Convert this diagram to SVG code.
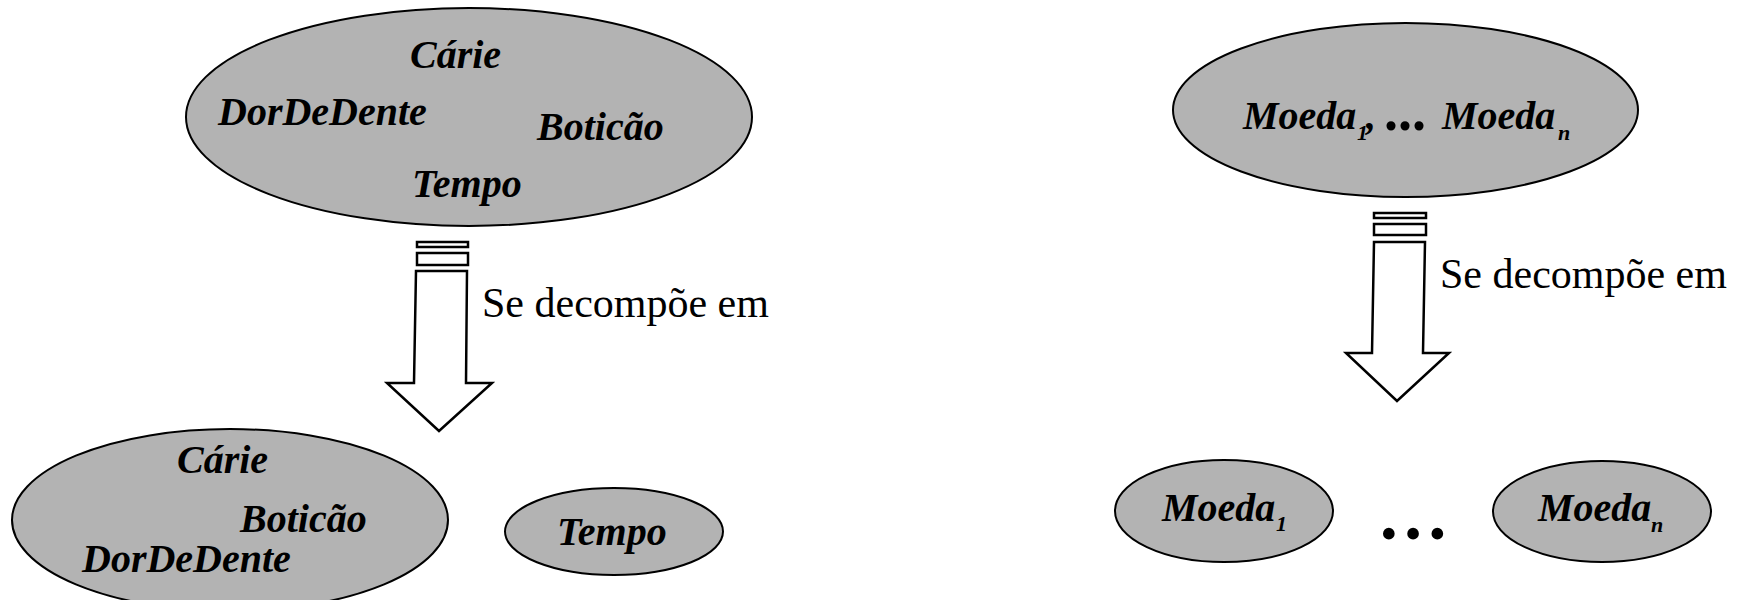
<svg xmlns="http://www.w3.org/2000/svg" width="1745" height="600" viewBox="0 0 1745 600">
<style>
.node{fill:#b3b3b3;stroke:#000;stroke-width:2}
.t{font-family:"Liberation Serif","Times New Roman",serif;font-weight:bold;font-style:italic;font-size:40px;fill:#000}
.sub{font-size:22px}
.lbl{font-family:"Liberation Serif","Times New Roman",serif;font-size:42px;fill:#000}
.arr{fill:#fff;stroke:#000;stroke-width:2.5;stroke-linejoin:miter}
.dots{font-family:"Liberation Serif","Times New Roman",serif;font-weight:bold;fill:#000}
</style>
<rect width="1745" height="600" fill="#fff"/>
<g id="connectors">
  <g id="arrow-left">
    <rect class="arr" x="417" y="242" width="51" height="5"/>
    <rect class="arr" x="417" y="253" width="51" height="12"/>
    <polygon class="arr" points="416,271 467,271 466,383 492,383 439,431 387,383 414,383"/>
    <text class="lbl" x="482" y="317">Se decompõe em</text>
  </g>
  <g id="arrow-right">
    <rect class="arr" x="1374" y="213" width="52" height="5"/>
    <rect class="arr" x="1374" y="224" width="52" height="11"/>
    <polygon class="arr" points="1374,242 1425,242 1423,353 1449,353 1397,401 1346,353 1372,353"/>
    <text class="lbl" x="1440" y="288">Se decompõe em</text>
  </g>
</g>
<g id="node-all">
  <ellipse class="node" cx="469" cy="117" rx="283" ry="109"/>
  <text class="t" x="410" y="68">Cárie</text>
  <text class="t" x="218" y="125">DorDeDente</text>
  <text class="t" x="537" y="140">Boticão</text>
  <text class="t" x="412" y="197">Tempo</text>
</g>
<g id="node-carie-dor-boticao">
  <ellipse class="node" cx="230" cy="520" rx="218" ry="91"/>
  <text class="t" x="177" y="473">Cárie</text>
  <text class="t" x="240" y="532">Boticão</text>
  <text class="t" x="82" y="572">DorDeDente</text>
</g>
<g id="node-tempo">
  <ellipse class="node" cx="614" cy="531.5" rx="109" ry="43.5"/>
  <text class="t" x="557" y="545">Tempo</text>
</g>
<g id="node-moedas">
  <ellipse class="node" cx="1405.5" cy="110" rx="232.5" ry="87"/>
  <text class="t" x="1243" y="129">Moeda</text>
  <text class="t sub" x="1357" y="140">1</text>
  <text class="t" x="1366" y="129">,</text>
  <text class="dots" x="1384" y="130" font-size="56">...</text>
  <text class="t" x="1442" y="129">Moeda</text>
  <text class="t sub" x="1558" y="140">n</text>
</g>
<g id="node-moeda1">
  <ellipse class="node" cx="1224" cy="511" rx="109" ry="51"/>
  <text class="t" x="1162" y="521">Moeda</text>
  <text class="t sub" x="1276" y="531">1</text>
</g>
<g id="node-ellipsis">
  <text class="dots" x="1377" y="539" font-size="72">…</text>
</g>
<g id="node-moedan">
  <ellipse class="node" cx="1602" cy="511.5" rx="109" ry="50.5"/>
  <text class="t" x="1538" y="521">Moeda</text>
  <text class="t sub" x="1651" y="532">n</text>
</g>
</svg>
